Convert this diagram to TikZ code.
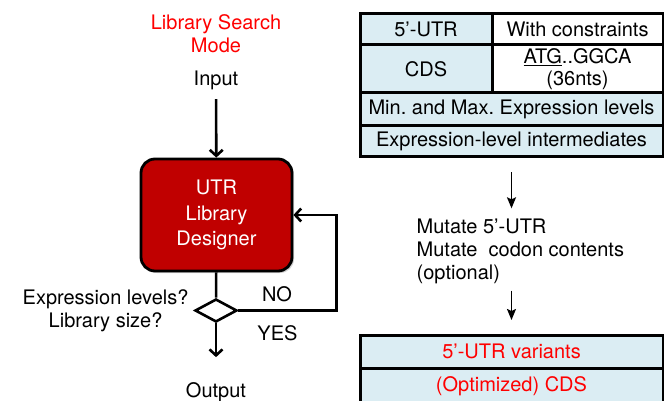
\documentclass[tikz,border=0pt]{standalone}
\usepackage{fontspec}
\setmainfont{TeX Gyre Heros}
\usetikzlibrary{positioning}
\usetikzlibrary{arrows.meta}
\usetikzlibrary{shapes.geometric,shadows}

\definecolor{boxred}{RGB}{192,0,0}
\definecolor{cellblue}{RGB}{219,237,243}
\definecolor{textred}{RGB}{255,0,0}

\tikzset{
  txt/.style={font=\fontsize{20}{23}\selectfont, inner sep=2pt, align=center},
  flow/.style={line width=2.6pt, -{Straight Barb[length=6pt,width=13pt]}},
  thinarrow/.style={line width=1.6pt, -{Stealth[length=11pt,width=9pt,inset=2pt]}},
  designer/.style={txt, font=\fontsize{20}{25.5}\selectfont, rectangle,
    rounded corners=14pt, draw=black, line width=2.8pt, fill=boxred,
    text=white, minimum width=151pt, minimum height=112pt,
    drop shadow={shadow xshift=2pt, shadow yshift=-2pt, opacity=0.35}},
  decision/.style={diamond, draw=black, line width=2.6pt, fill=white,
    minimum width=42pt, minimum height=23pt, inner sep=0pt},
  cell/.style={txt, font=\fontsize{20}{22}\selectfont, rectangle,
    draw=black, line width=3pt, fill=cellblue, anchor=north west,
    inner sep=0pt, outer sep=0pt},
}

\begin{document}
\frenchspacing
\begin{tikzpicture}[x=1pt,y=1pt]
  \useasboundingbox (0,0) rectangle (664,-401);
  \clip (0,0) rectangle (664,-401);

  % search mode flow
  \node[txt, text=textred] (mode) at (216,-34) {Library Search\\Mode};
  \node[txt] (input) at (216,-80.5) {Input};
  \node[designer] (utr) at (216.5,-215) {UTR\\Library\\Designer};
  \node[decision] (check) at (216,-310.5) {};
  \node[txt, left=3pt of check] (ask) {Expression levels?\\Library size?};
  \node[txt] (no) at (277,-294) {NO};
  \node[txt] (yes) at (277.5,-333.5) {YES};
  \node[txt] (output) at (216,-392) {Output};

  \draw[flow, shorten <=7pt] (input) -- (utr);
  \draw[line width=2.6pt] (utr) -- (check);
  \draw[flow] (check.east) -- ++(98,0) |- (utr.east);
  \draw[flow, shorten >=23pt] (check) -- (output);

  % input table
  \node[cell, minimum width=132pt, minimum height=31pt] (utr5) at (360,-14) {5’-UTR};
  \node[cell, fill=white, minimum width=171pt, minimum height=31pt] (cons) at (utr5.north east) {With constraints};
  \node[cell, minimum width=132pt, minimum height=48pt] (cds) at (utr5.south west) {CDS};
  \node[cell, fill=white, minimum width=171pt, minimum height=48pt] (seq) at (cds.north east) {\underline{ATG}..GGCA\\(36nts)};
  \node[cell, minimum width=303pt, minimum height=33pt] (minmax) at (cds.south west) {Min. and Max. Expression levels};
  \node[cell, minimum width=303pt, minimum height=31pt] (inter) at (minmax.south west) {Expression-level intermediates};

  \node[txt, align=left, anchor=west] (mutate) at (414.5,-251)
    {Mutate 5’-UTR\\Mutate~ codon contents\\(optional)};

  % output table
  \node[cell, text=textred, minimum width=303pt, minimum height=33pt] (variants) at (360,-335) {5’-UTR variants};
  \node[cell, text=textred, minimum width=303pt, minimum height=36pt] (optcds) at (variants.south west) {(Optimized) CDS};

  \draw[thinarrow, shorten <=15pt, shorten >=8pt] (inter.south) -- (inter.south |- mutate.north);
  \draw[thinarrow, shorten <=5pt, shorten >=15pt] (variants.north |- mutate.south) -- (variants.north);
\end{tikzpicture}
\end{document}
